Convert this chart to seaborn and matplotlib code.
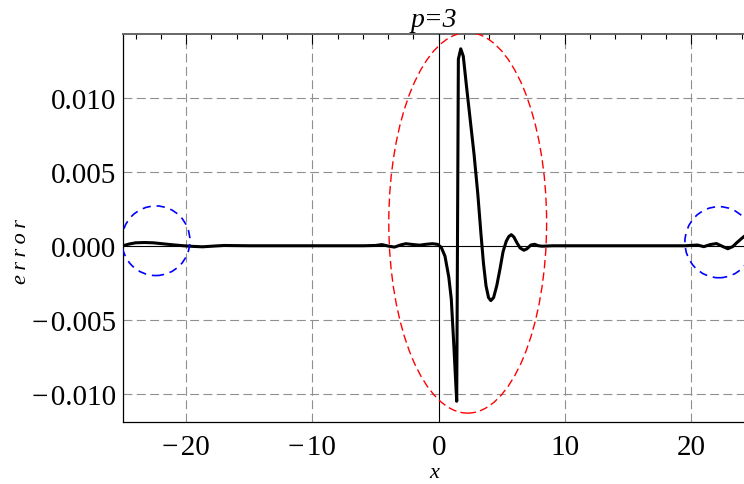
import numpy as np
import pandas as pd
import seaborn as sns
import matplotlib.pyplot as plt
from matplotlib.patches import Ellipse
from matplotlib.ticker import MultipleLocator, FuncFormatter

# error curve for p=3
x_vals = [-25, -24.5, -24, -23.3, -22.6, -21.8, -21.0, -20.2, -19.5, -18.7,
          -17.8, -17, -15, -10, -6, -5.0, -4.5, -4.0, -3.5, -3.0, -2.6, -2.0,
          -1.5, -1.0, -0.5, -0.1, 0.2, 0.5, 0.8, 1.0, 1.2, 1.35, 1.43, 1.56,
          1.75, 1.95, 2.2, 2.5, 2.8, 3.1, 3.35, 3.55, 3.75, 3.95, 4.13, 4.35,
          4.6, 4.85, 5.1, 5.35, 5.55, 5.75, 5.95, 6.2, 6.45, 6.75, 7.0, 7.3,
          7.6, 7.9, 8.2, 9, 12, 16, 19.5, 20.5, 21.0, 21.5, 22.0, 22.5, 22.9,
          23.3, 23.6, 24.0, 24.3]
y_vals = [0.0, 0.00012, 0.0002, 0.00022, 0.0002, 0.00013, 0.00006, 0.0,
          -0.00004, -0.00007, -0.00002, 0.00002, 0.0, 0.0, 0.0, 0.00002,
          0.00008, -0.00002, -0.00009, 0.00006, 0.00014, 0.00008, 0.00004,
          0.0001, 0.00014, 0.0001, -0.0001, -0.0007, -0.0021, -0.0036,
          -0.0067, -0.0092, -0.0105, 0.0126, 0.0133, 0.0128, 0.0108, 0.0085,
          0.0062, 0.0035, 0.0008, -0.0012, -0.0027, -0.0035, -0.0037,
          -0.0035, -0.0027, -0.0016, -0.0004, 0.0003, 0.00062, 0.00075,
          0.0006, 0.0002, -0.00015, -0.0003, -0.0002, 0.00005, 0.0001, 0.0,
          -0.00003, 0.0, 0.0, 0.0, 0.0, 0.00005, -0.00006, 0.00008, 0.00015,
          -0.00005, -0.0002, -0.00005, 0.0002, 0.0005, 0.0007]

df = pd.DataFrame({"x": x_vals, "error": y_vals})

sns.set_style("white")
plt.rcParams["font.family"] = ["Liberation Serif", "DejaVu Serif"]
plt.rcParams["text.color"] = "black"
plt.rcParams["axes.labelcolor"] = "black"
plt.rcParams["xtick.color"] = "black"
plt.rcParams["ytick.color"] = "black"

fig = plt.figure(figsize=(7.44, 4.85), dpi=100)
ax = fig.add_axes([123 / 744, 1 - 423 / 485, 1 - 123 / 744 + 0.002,
                   (423 - 35) / 485])

sns.lineplot(data=df, x="x", y="error", color="black", linewidth=2.2,
             ax=ax, zorder=5)

# highlighted regions
ax.add_patch(Ellipse((2.3, 0.00155), 12.5, 0.0257, fill=False,
                     edgecolor="red", linewidth=1.0, linestyle=(0, (6, 3)),
                     zorder=6))
ax.add_patch(Ellipse((-22.4, 0.00034), 5.4, 0.0047, fill=False,
                     edgecolor="blue", linewidth=1.2, linestyle=(0, (5, 3.5)),
                     zorder=6))
ax.add_patch(Ellipse((22.2, 0.00024), 5.4, 0.0048, fill=False,
                     edgecolor="blue", linewidth=1.2, linestyle=(0, (5, 3.5)),
                     zorder=6))

ax.axhline(0, color="black", linewidth=0.8, zorder=3)
ax.axvline(0, color="black", linewidth=0.8, zorder=3)

ax.set_xlim(-25, 24.3)
ax.set_ylim(-0.0119, 0.0143)

ax.xaxis.set_major_locator(MultipleLocator(10))
ax.xaxis.set_minor_locator(MultipleLocator(2))
ax.yaxis.set_major_locator(MultipleLocator(0.005))
ax.yaxis.set_minor_locator(MultipleLocator(0.001))


def fmt(dec):
    def f(v, pos):
        if abs(v) < 1e-12:
            return f"{0:.{dec}f}"
        s = f"{abs(v):.{dec}f}"
        return ("\u2212\u200a" + s) if v < 0 else s
    return FuncFormatter(f)


ax.xaxis.set_major_formatter(fmt(0))
ax.yaxis.set_major_formatter(fmt(3))

ax.tick_params(which="both", direction="in", top=True, right=False,
               labelsize=21, color="black", labelcolor="black", width=0.8)
ax.tick_params(which="major", length=7, pad=5)
ax.tick_params(axis="x", which="major", pad=9)
ax.tick_params(which="minor", length=3.5)

ax.grid(True, which="major", color="#8f8f8f", linewidth=0.8,
        linestyle=(0, (8, 4)))
for t in ax.xaxis.get_major_ticks() + ax.yaxis.get_major_ticks():
    if abs(t.get_loc()) < 1e-12:
        t.gridline.set_visible(False)
for t in ax.xaxis.get_major_ticks() + ax.xaxis.get_minor_ticks():
    t.tick2line.set_color("#666666")

for side in ["left", "bottom"]:
    ax.spines[side].set_color("black")
    ax.spines[side].set_linewidth(0.9)
ax.spines["top"].set_color("#666666")
ax.spines["top"].set_linewidth(1.4)
ax.spines["right"].set_visible(False)

ax.set_xlabel("x", fontsize=16, style="italic", labelpad=2)
ax.set_ylabel("e\u2009r\u2009r\u2009o\u2009r", fontsize=16, style="italic")
ax.yaxis.set_label_coords(-0.147, 0.443)
ax.set_title("p=3", fontsize=20, style="italic", pad=6)

fig.savefig("out.png", dpi=100)
plt.close(fig)
